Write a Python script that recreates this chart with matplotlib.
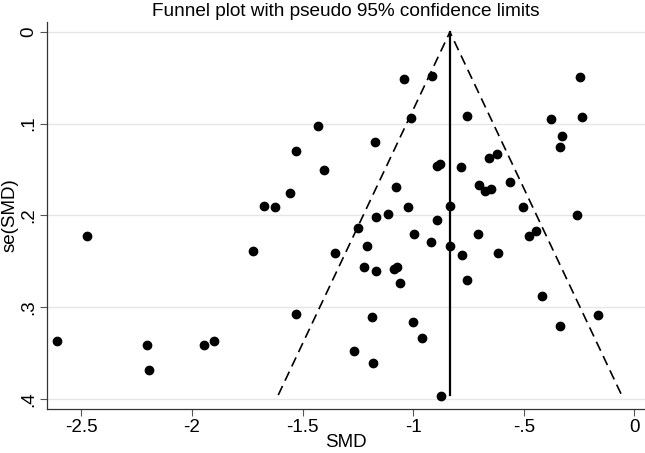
import numpy as np
import matplotlib
matplotlib.use("Agg")
import matplotlib.pyplot as plt

plt.rcParams['font.family'] = ['Liberation Sans', 'DejaVu Sans']

# study effects (SMD) and standard errors
smd = [-1.429, -1.531, -1.403, -1.557, -1.673, -1.624, -1.040, -0.916, -0.246, -1.011,
       -0.757, -0.377, -0.238, -0.328, -0.337, -1.174, -0.657, -0.620, -0.892, -0.877,
       -0.782, -0.561, -0.701, -0.675, -0.648, -1.078, -1.025, -0.834, -0.505, -1.167,
       -1.113, -0.892, -0.261, -1.248, -0.445, -0.995, -0.708, -0.475, -1.355, -1.208,
       -0.918, -0.834, -0.781, -0.618, -1.221, -1.167, -1.085, -1.072, -1.058, -0.757,
       -0.417, -1.188, -1.002, -0.959, -0.337, -0.163, -1.269, -1.180, -0.874, -2.477,
       -1.725, -1.530, -2.610, -2.205, -2.193, -1.946, -1.902]
se = [0.1025, 0.1298, 0.150, 0.1753, 0.1895, 0.1906, 0.0513, 0.0477, 0.0491, 0.0942,
      0.092, 0.0949, 0.0927, 0.1138, 0.1251, 0.120, 0.1378, 0.1327, 0.1462, 0.144,
      0.1476, 0.164, 0.1673, 0.1734, 0.1709, 0.1695, 0.1913, 0.1895, 0.1906, 0.2022,
      0.1986, 0.2047, 0.2000, 0.2135, 0.2171, 0.2204, 0.220, 0.2225, 0.2407, 0.2338,
      0.2291, 0.2331, 0.2436, 0.2411, 0.256, 0.2607, 0.2582, 0.256, 0.2735, 0.2705,
      0.2876, 0.3105, 0.3164, 0.3338, 0.3207, 0.3087, 0.3477, 0.3607, 0.3967, 0.2222,
      0.2393, 0.3073, 0.3371, 0.3411, 0.3691, 0.3414, 0.3374]

pooled = -0.834
se_max = 0.396

xticks = [-2.5, -2, -1.5, -1, -0.5, 0]
xticklabels = ["-2.5", "-2", "-1.5", "-1", "-.5", "0"]
yticks = [0, 0.1, 0.2, 0.3, 0.4]
yticklabels = ["0", ".1", ".2", ".3", ".4"]

fig = plt.figure(figsize=(6.45, 4.53), dpi=100)
ax = fig.add_axes([0.0724, 0.097, 0.9276, 0.855])

# grid
for y in yticks:
    ax.axhline(y, color='#e6e6e6', linewidth=1.0, zorder=0)

# funnel
ax.plot([pooled - 1.96 * se_max, pooled, pooled + 1.96 * se_max], [se_max, 0, se_max],
        color='black', linewidth=1.2, linestyle=(0, (6, 3.5)), zorder=2)
ax.plot([pooled, pooled], [0, se_max], color='black', linewidth=1.6, zorder=2)

# studies
ax.plot(smd, se, 'o', color='black', markersize=6, zorder=3, linestyle='none')

ax.set_xlim(-2.657, 0.048)
ax.set_ylim(0.4113, -0.0112)

ax.set_xticks(xticks)
ax.set_xticklabels(xticklabels)
ax.set_yticks(yticks)
ax.set_yticklabels(yticklabels, rotation=90, va='center')

ax.tick_params(axis='both', labelsize=13.5, length=5, width=0.8, color='#555555', pad=2)
for s in ['top', 'right']:
    ax.spines[s].set_visible(False)
for s in ['left', 'bottom']:
    ax.spines[s].set_color('#333333')
    ax.spines[s].set_linewidth(0.9)

ax.set_xlabel("SMD", fontsize=13.5, labelpad=-1)
ax.set_ylabel("se(SMD)", fontsize=13.5)
ax.yaxis.set_label_coords(-0.047, 0.5)
ax.set_title("Funnel plot with pseudo 95% confidence limits", fontsize=13.7, pad=4)

fig.savefig("out.png", dpi=100)
